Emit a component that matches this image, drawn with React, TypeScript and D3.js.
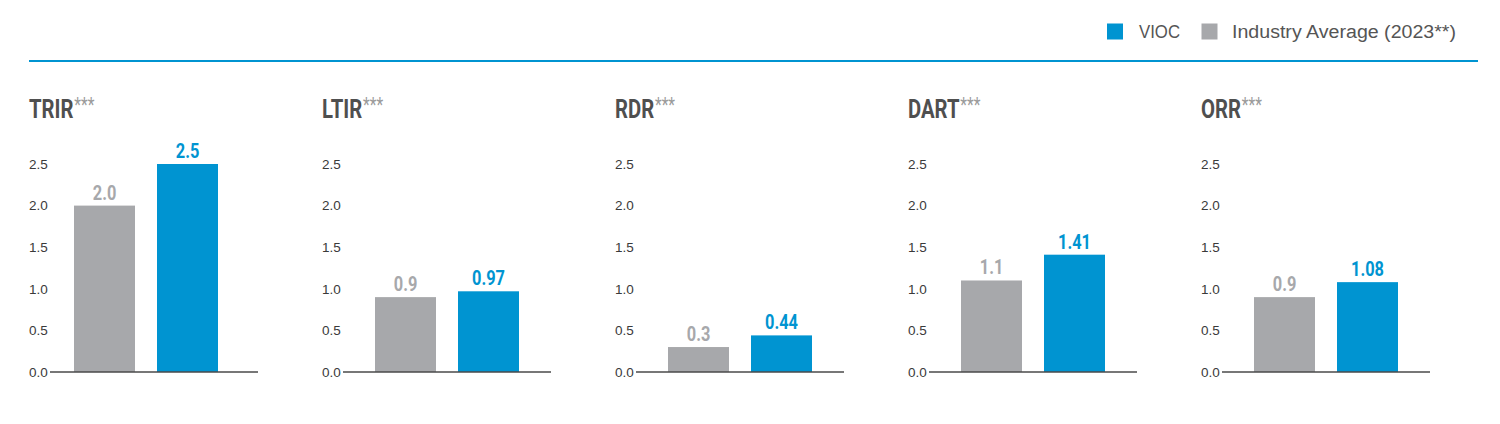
import React from "react";
import * as d3 from "d3";

const metrics = ["TRIR", "LTIR", "RDR", "DART", "ORR"];
const industryValues = [2.0, 0.9, 0.3, 1.1, 0.9];
const viocValues = [2.5, 0.97, 0.44, 1.41, 1.08];
const industryLabels = ["2.0", "0.9", "0.3", "1.1", "0.9"];
const viocLabels = ["2.5", "0.97", "0.44", "1.41", "1.08"];
const yTicks = [0, 0.5, 1.0, 1.5, 2.0, 2.5];
const seriesKeys = ["Industry", "VIOC"];
const legendLabels = ["VIOC", "Industry Average (2023**)"];

const BLUE = "#0094d1";
const GRAY = "#a7a8ab";
const TITLE = "#4f4f4f";
const COND = "Roboto, 'DejaVu Sans', sans-serif";
const SANS = "'Liberation Sans', Arial, sans-serif";

export default function App() {
  const W = 1500;
  const H = 424;
  const panelX = d3.scalePoint<string>().domain(metrics).range([29, 1201]);
  const y = d3.scaleLinear().domain([0, 2.5]).range([372, 164]);
  const shift = [-8, 0, 0, 0, 0];
  const sx = 0.78;

  return (
    <svg
      width={W}
      height={H}
      style={{ position: "absolute", left: 0, top: 0, background: "#fff" }}
    >
      {/* legend */}
      <rect x={1107} y={23.5} width={16} height={16} fill={BLUE} />
      <text
        x={1139}
        y={38}
        fontFamily={SANS}
        fontSize={18}
        fill="#555"
        textLength={41}
        lengthAdjust="spacingAndGlyphs"
      >
        {legendLabels[0]}
      </text>
      <rect x={1201.5} y={23.5} width={16} height={16} fill={GRAY} />
      <text
        x={1232}
        y={38}
        fontFamily={SANS}
        fontSize={18}
        fill="#555"
        textLength={224}
        lengthAdjust="spacingAndGlyphs"
      >
        {legendLabels[1]}
      </text>
      <line x1={29} x2={1478} y1={61} y2={61} stroke={BLUE} strokeWidth={2} />

      {metrics.map((m, i) => {
        const x0 = panelX(m) as number;
        const axisStart = x0 + 21;
        const bx = axisStart + 32 + shift[i];
        const band = d3
          .scaleBand<string>()
          .domain(seriesKeys)
          .range([bx, bx + 144])
          .paddingInner(22 / 83)
          .paddingOuter(0);
        const vals = [industryValues[i], viocValues[i]];
        const labs = [industryLabels[i], viocLabels[i]];
        const cols = [GRAY, BLUE];
        return (
          <g key={m}>
            <text
              transform={`translate(${x0},118) scale(${sx},1)`}
              fontFamily={COND}
              fontWeight={700}
              fontSize={26}
              fill={TITLE}
            >
              {m}
              <tspan fontSize={20} fontWeight={400} fill="#9a9a9a" dx={1} dy={-6}>
                ***
              </tspan>
            </text>
            {yTicks.map((t) => (
              <text
                key={t}
                x={x0}
                y={y(t)}
                dy="0.36em"
                fontFamily={SANS}
                fontSize={13.5}
                fill="#3a3a3a"
              >
                {t.toFixed(1)}
              </text>
            ))}
            {seriesKeys.map((k, j) => (
              <g key={k}>
                <rect
                  x={band(k)}
                  y={y(vals[j])}
                  width={band.bandwidth()}
                  height={y(0) - y(vals[j])}
                  fill={cols[j]}
                />
                <text
                  transform={`translate(${(band(k) as number) + band.bandwidth() / 2},${
                    y(vals[j]) - 6
                  }) scale(${sx},1)`}
                  textAnchor="middle"
                  fontFamily={COND}
                  fontWeight={700}
                  fontSize={21}
                  fill={cols[j]}
                >
                  {labs[j]}
                </text>
              </g>
            ))}
            <line
              x1={axisStart}
              x2={axisStart + 208}
              y1={y(0)}
              y2={y(0)}
              stroke="#4a4a4a"
              strokeWidth={1.6}
            />
          </g>
        );
      })}
    </svg>
  );
}
